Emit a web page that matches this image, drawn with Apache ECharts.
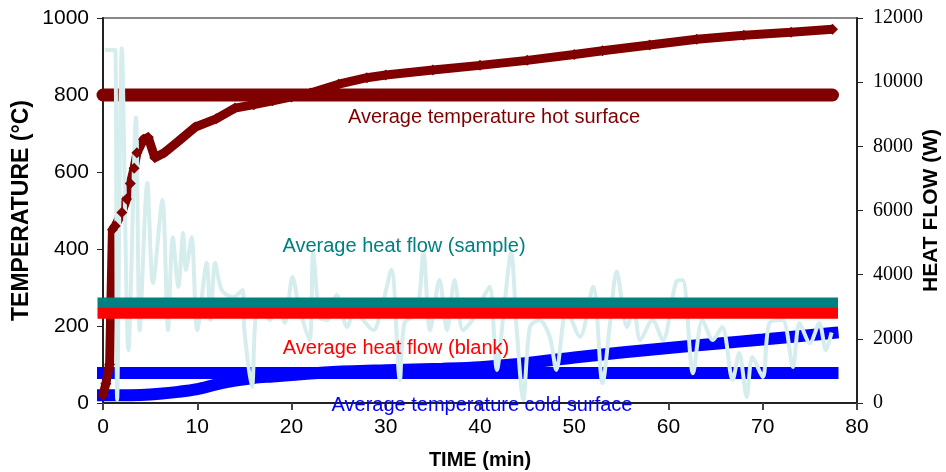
<!DOCTYPE html>
<html>
<head>
<meta charset="utf-8">
<script src="https://cdn.jsdelivr.net/npm/echarts@6/dist/echarts.min.js"></script>
<style>
    html, body { margin: 0; padding: 0; background: #fff; }
    #chart { width: 946px; height: 472px; }
</style>
</head>
<body>
<div id="chart"></div>
<script>
// hot surface temperature (°C) vs time (min)
const hotTime = [0, 0.3, 0.7, 1.0, 1.3, 2.0, 2.5, 2.9, 3.3, 3.6, 4.3, 4.8, 5.5, 6.5, 8, 9.8, 12, 14, 16, 18, 20, 22, 25, 28, 30, 35, 40, 45, 50, 53, 58, 63, 68, 73, 77.4];
const hotTemp = [20, 50, 100, 450, 460, 495, 530, 570, 610, 650, 685, 690, 637, 650, 680, 717, 738, 766, 775, 785, 795, 805, 828, 845, 852, 865, 877, 890, 905, 915, 930, 945, 955, 963, 971];

// cold surface temperature (°C) vs time (min)
const coldTime = [0, 2, 4, 6, 8, 10, 12, 14, 16, 18, 20, 24, 30, 36, 40, 45, 50, 55, 60, 65, 70, 77.4];
const coldTemp = [20, 20, 21, 24, 29, 36, 48, 58, 65, 69, 73, 80, 85, 89, 93, 104, 118, 131, 143, 154, 165, 182];

// measured heat flow (W) vs time (min)
const hfTime = [0.2, 1.0, 1.3, 1.5, 2.0, 2.7, 3.5, 3.9, 4.7, 5.3, 6.3, 6.9, 7.4, 8.0, 8.5, 8.8, 9.4, 10.0, 11.0, 11.4, 11.9, 12.6, 13.8, 14.8, 15.0, 15.8, 16.2, 16.8, 17.7, 18.5, 19.3, 20.1, 20.8, 21.9, 22.3, 23.0, 23.8, 24.8, 25.9, 26.8, 27.6, 28.7, 29.6, 30.6, 31.5, 32.0, 33.3, 34.0, 34.7, 35.7, 36.5, 37.3, 38.2, 39.2, 40.2, 41.0, 41.8, 42.5, 43.3, 43.9, 44.6, 45.3, 46.3, 47.4, 48.1, 49.2, 50.6, 52.0, 53.0, 53.8, 54.5, 55.6, 56.3, 57.0, 58.3, 59.4, 60.8, 61.5, 62.6, 63.6, 64.7, 65.7, 66.8, 67.5, 68.3, 68.9, 70.0, 70.7, 72.1, 73.2, 73.9, 75.0, 76.0, 76.7, 77.3];
const hfWatts = [11000, 11000, 11000, 100, 11060, 1650, 8900, 2270, 6860, 3740, 6330, 2270, 5170, 3620, 5300, 4150, 5170, 2270, 4360, 2590, 4360, 3520, 3300, 3520, 2270, 500, 2680, 3000, 2590, 3100, 2500, 3930, 3000, 1960, 4680, 2680, 2590, 3370, 2370, 3000, 2590, 2270, 3000, 4150, 720, 2500, 2800, 4680, 2270, 3830, 2270, 3830, 2270, 2590, 3200, 3620, 1030, 2800, 4680, 2270, 90, 2370, 2590, 2060, 1030, 2900, 2060, 3620, 620, 2500, 4100, 2370, 3000, 1960, 2590, 1960, 3770, 3830, 930, 2590, 1960, 2370, 720, 1560, 190, 1430, 810, 2490, 2590, 1120, 2490, 1870, 2490, 1650, 2200];

// averages
const avgTimes = [0, 77.4];
const avgHotTemp = 800;
const avgColdTemp = 78;
const avgHeatSample = 260; // drawn on temperature scale
const avgHeatBlank = 233;

const pairs = (xs, ys) => xs.map((x, i) => [x, ys[i]]);
const flat = (v) => avgTimes.map((x) => [x, v]);

const chart = echarts.init(document.getElementById("chart"));

const tickFont = { fontFamily: "Liberation Sans, Arial", fontSize: 21, color: "#000" };

const options = {
    animation: false,
    grid: {
        left: 103,
        right: 89,
        top: 18,
        bottom: 69,
        containLabel: false,
        outerBoundsMode: "none",
        show: true,
        borderColor: "#888",
        borderWidth: 2,
    },
    xAxis: {
        type: "value",
        min: 0,
        max: 80,
        interval: 10,
        name: "TIME (min)",
        nameLocation: "middle",
        nameGap: 47,
        nameMoveOverlap: false,
        nameTextStyle: { fontFamily: "Liberation Sans, Arial", fontSize: 20, fontWeight: "bold", color: "#000" },
        axisLine: { lineStyle: { color: "#222", width: 2 } },
        axisTick: { length: 7, lineStyle: { color: "#444", width: 2 } },
        axisLabel: Object.assign({ margin: 14 }, tickFont),
        splitLine: { show: false },
    },
    yAxis: [
        {
            type: "value",
            min: 0,
            max: 1000,
            interval: 200,
            name: "TEMPERATURE (°C)",
            nameLocation: "middle",
            nameRotate: 90,
            nameGap: 70,
            nameMoveOverlap: false,
            nameTextStyle: { fontFamily: "Liberation Sans, Arial", fontSize: 23, fontWeight: "bold", color: "#000" },
            axisLine: { show: true, lineStyle: { color: "#222", width: 2 } },
            axisTick: { show: true, length: 6, lineStyle: { color: "#222" } },
            axisLabel: Object.assign({ margin: 14, formatter: (v) => String(v) }, tickFont),
            splitLine: { show: false },
        },
        {
            type: "value",
            min: 0,
            max: 12000,
            interval: 2000,
            position: "right",
            name: "HEAT FLOW (W)",
            nameLocation: "middle",
            nameRotate: 90,
            nameGap: 64,
            nameMoveOverlap: false,
            nameTextStyle: { fontFamily: "Liberation Sans, Arial", fontSize: 21, fontWeight: "bold", color: "#000" },
            axisLine: { show: true, lineStyle: { color: "#222", width: 2 } },
            axisTick: { show: true, length: 6, lineStyle: { color: "#222" } },
            axisLabel: { margin: 16, formatter: (v) => String(v), fontFamily: "Liberation Serif, Times New Roman", fontSize: 20, color: "#000" },
            splitLine: { show: false },
        },
    ],
    series: [
        {
            name: "Average temperature cold surface",
            type: "line",
            data: flat(avgColdTemp),
            symbol: "none",
            clip: false,
            lineStyle: { color: "#0000ff", width: 12, cap: "square" },
        },
        {
            name: "Cold surface",
            type: "line",
            data: pairs(coldTime, coldTemp),
            symbol: "none",
            smooth: 0.3,
            clip: false,
            lineStyle: { color: "#0000ff", width: 12, cap: "square" },
        },
        {
            name: "Average temperature hot surface",
            type: "line",
            data: flat(avgHotTemp),
            symbol: "none",
            clip: false,
            lineStyle: { color: "#800000", width: 13, cap: "round" },
        },
        {
            name: "Hot surface",
            type: "line",
            data: pairs(hotTime, hotTemp),
            symbol: "diamond",
            symbolSize: 11,
            clip: false,
            itemStyle: { color: "#800000" },
            lineStyle: { color: "#800000", width: 9 },
        },
        {
            name: "Heat flow (sample)",
            type: "line",
            yAxisIndex: 1,
            data: pairs(hfTime, hfWatts),
            symbol: "none",
            smooth: 0.3,
            lineStyle: { color: "#d6eded", width: 4 },
        },
        {
            name: "Average heat flow (sample)",
            type: "line",
            data: flat(avgHeatSample),
            symbol: "none",
            clip: false,
            lineStyle: { color: "#008080", width: 11, cap: "square" },
        },
        {
            name: "Average heat flow (blank)",
            type: "line",
            data: flat(avgHeatBlank),
            symbol: "none",
            clip: false,
            lineStyle: { color: "#ff0000", width: 11, cap: "square" },
        },
    ],
    graphic: [
        { type: "text", x: 494, y: 117, z: 100, style: { text: "Average temperature hot surface", fill: "#800000", font: "20px Liberation Sans, Arial", align: "center", verticalAlign: "middle" } },
        { type: "text", x: 404, y: 246, z: 100, style: { text: "Average heat flow (sample)", fill: "#008080", font: "20px Liberation Sans, Arial", align: "center", verticalAlign: "middle" } },
        { type: "text", x: 396, y: 348, z: 100, style: { text: "Average heat flow (blank)", fill: "#ff0000", font: "20px Liberation Sans, Arial", align: "center", verticalAlign: "middle" } },
        { type: "text", x: 482, y: 405, z: 100, style: { text: "Average temperature cold surface", fill: "#0000ff", font: "20px Liberation Sans, Arial", align: "center", verticalAlign: "middle" } },
    ],
};

chart.setOption(options);
</script>
</body>
</html>
